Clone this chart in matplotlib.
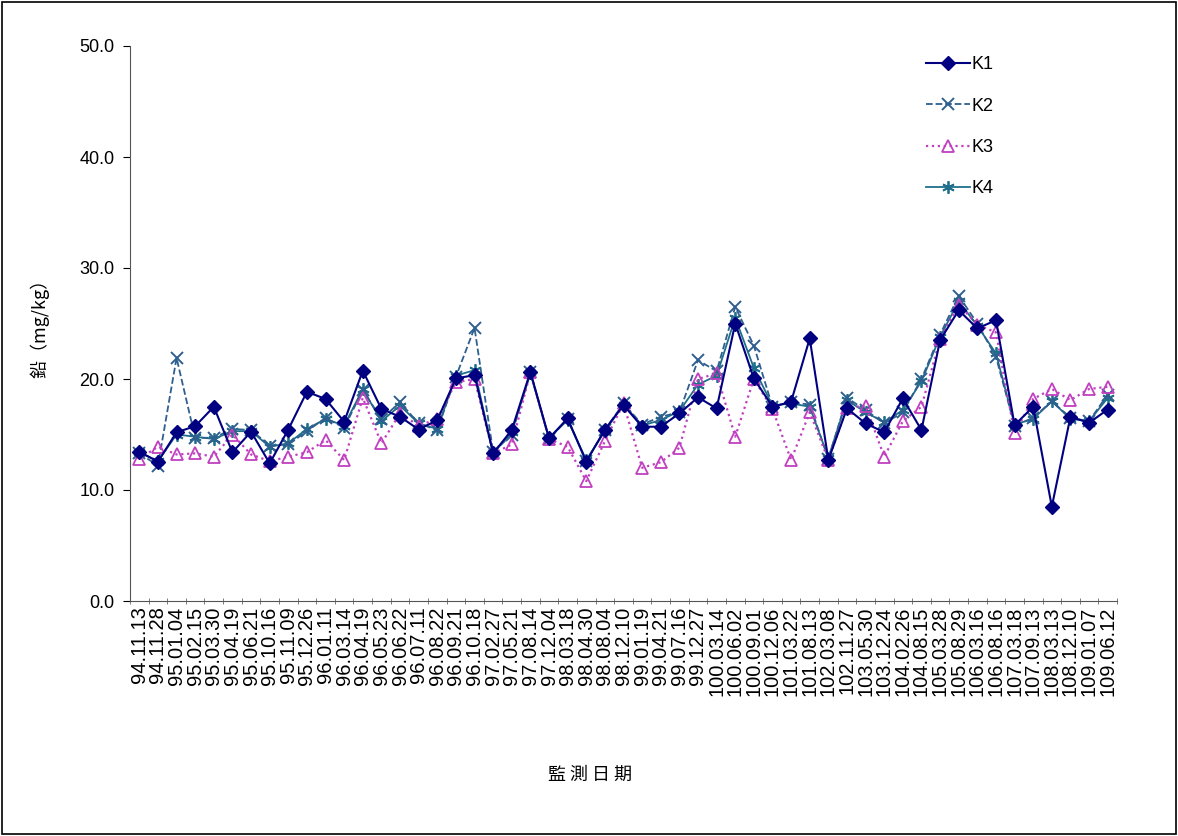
import matplotlib
matplotlib.use("Agg")
import matplotlib.pyplot as plt
from matplotlib.ticker import FixedLocator, FormatStrFormatter

plt.rcParams['font.family'] = ['Liberation Sans', 'Noto Sans CJK TC', 'DejaVu Sans']

# sampling dates (ROC calendar)
dates = ["94.11.13", "94.11.28", "95.01.04", "95.02.15", "95.03.30", "95.04.19",
         "95.06.21", "95.10.16", "95.11.09", "95.12.26", "96.01.11", "96.03.14",
         "96.04.19", "96.05.23", "96.06.22", "96.07.11", "96.08.22", "96.09.21",
         "96.10.18", "97.02.27", "97.05.21", "97.08.14", "97.12.04", "98.03.18",
         "98.04.30", "98.08.04", "98.12.10", "99.01.19", "99.04.21", "99.07.16",
         "99.12.27", "100.03.14", "100.06.02", "100.09.01", "100.12.06", "101.03.22",
         "101.08.13", "102.03.08", "102.11.27", "103.05.30", "103.12.24", "104.02.26",
         "104.08.15", "105.03.28", "105.08.29", "106.03.16", "106.08.16", "107.03.18",
         "107.09.13", "108.03.13", "108.12.10", "109.01.07", "109.06.12"]

k1 = [13.45, 12.55, 15.2, 15.75, 17.5, 13.4, 15.25, 12.4, 15.45, 18.85,
      18.2, 16.15, 20.75, 17.3, 16.6, 15.45, 16.3, 20.05, 20.35, 13.3,
      15.4, 20.65, 14.65, 16.45, 12.55, 15.45, 17.65, 15.7, 15.7, 16.9,
      18.35, 17.35, 25.0, 20.05, 17.5, 17.95, 23.65, 12.7, 17.35, 16.0,
      15.2, 18.25, 15.4, 23.5, 26.2, 24.55, 25.3, 15.85, 17.5, 8.5,
      16.6, 16.05, 17.25]
k2 = [13.3, 12.2, 21.9, 14.7, 14.7, 15.5, 15.4, 14.0, 14.1, 15.3,
      16.5, 15.6, 19.0, 16.4, 17.9, 16.0, 15.4, 20.2, 24.6, 13.4,
      15.0, 20.6, 14.6, 16.4, 12.6, 15.4, 17.8, 15.9, 16.6, 17.0,
      21.7, 20.7, 26.5, 23.0, 17.5, 17.9, 17.7, 12.8, 18.3, 17.2,
      16.0, 17.0, 20.0, 24.0, 27.5, 25.0, 22.0, 15.8, 16.5, 18.0,
      16.5, 16.2, 18.6]
k3 = [12.8, 13.9, 13.2, 13.3, 13.0, 15.0, 13.2, 12.6, 13.0, 13.4,
      14.5, 12.7, 18.3, 14.2, 16.9, 15.8, 16.4, 19.7, 20.0, 13.3,
      14.1, 20.6, 14.6, 13.9, 10.8, 14.4, 17.8, 12.0, 12.5, 13.8,
      20.0, 20.5, 14.8, 20.0, 17.3, 12.7, 17.0, 12.7, 17.4, 17.6,
      13.0, 16.2, 17.5, 23.6, 26.7, 24.9, 24.2, 15.1, 18.2, 19.1,
      18.1, 19.1, 19.3]
k4 = [13.4, 12.6, 15.0, 14.8, 14.6, 15.3, 15.3, 13.9, 14.2, 15.5,
      16.4, 15.8, 19.1, 16.2, 17.6, 16.0, 15.5, 20.3, 20.8, 13.3,
      15.2, 20.5, 14.7, 16.3, 12.7, 15.3, 17.7, 15.8, 16.3, 17.1,
      19.5, 20.3, 25.5, 21.0, 17.6, 17.8, 17.5, 12.9, 18.1, 17.0,
      16.1, 17.2, 19.8, 23.8, 27.0, 24.8, 22.3, 15.9, 16.4, 18.0,
      16.4, 16.2, 18.3]

fig = plt.figure(figsize=(11.78, 8.36), dpi=100)
ax = fig.add_axes([130/1178, 1-601/836, 987/1178, 555/836])

x = list(range(len(dates)))
ax.plot(x, k4, '-', color='#1F6F8B', lw=1.3, marker=(6, 2, 0), ms=9, mew=1.3, label='K4', zorder=2)
ax.plot(x, k3, ':', color='#C040C0', lw=1.6, marker='^', ms=9, mfc='none', mew=1.3, label='K3', zorder=3)
ax.plot(x, k2, '--', color='#2F5F8F', lw=1.3, marker='x', ms=9, mew=1.4, label='K2', zorder=2)
ax.plot(x, k1, '-', color='#000080', lw=1.5, marker='D', ms=7.5, label='K1', zorder=4)

ax.set_xlim(-0.5, len(dates) - 0.5)
ax.set_ylim(0, 50)
ax.yaxis.set_major_locator(FixedLocator([0, 10, 20, 30, 40, 50]))
ax.yaxis.set_major_formatter(FormatStrFormatter('%.1f'))
ax.tick_params(axis='y', labelsize=13, length=5, direction='out', pad=6)

ax.set_xticks(x)
ax.set_xticklabels(dates, rotation=90, fontsize=14.5)
ax.set_xticks([i - 0.5 for i in range(len(dates) + 1)], minor=True)
ax.tick_params(axis='x', which='major', length=0, pad=4)
ax.tick_params(axis='x', which='minor', length=4, direction='inout', color='#666666')

for s in ['top', 'right']:
    ax.spines[s].set_visible(False)
ax.spines['left'].set_color('#555555')
ax.spines['bottom'].set_color('#555555')

ax.set_ylabel('鉛（mg/kg）', family=['Noto Sans CJK TC'], fontsize=13, labelpad=22)
fig.text(590/1178, 1-775/836, '監 測 日 期', family=['Noto Sans CJK TC'], fontsize=13,
         ha='center', va='center')

h, l = ax.get_legend_handles_labels()
order = [3, 2, 1, 0]
ax.legend([h[i] for i in order], [l[i] for i in order], loc='upper left',
          bbox_to_anchor=(910/1178, 1-40/836), bbox_transform=fig.transFigure,
          frameon=False, fontsize=13, handlelength=2.4, labelspacing=1.35,
          handletextpad=0.1)

fig.patches.append(plt.Rectangle((0.002, 0.002), 0.996, 0.996, transform=fig.transFigure,
                                 fill=False, edgecolor='black', lw=1.2))

fig.savefig('out.png', dpi=100)
